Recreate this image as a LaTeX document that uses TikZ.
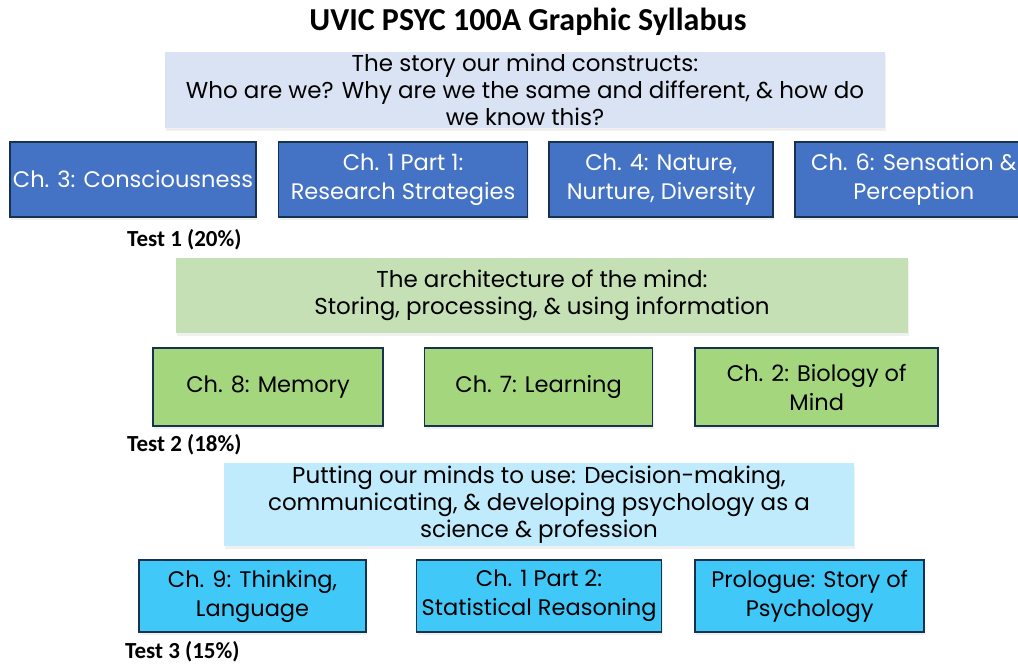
\documentclass[tikz,border=0pt]{standalone}
\usepackage{fontspec}
\setmainfont{Poppins}
\newfontfamily\headfont{Carlito}
\usepackage{tikz}
\usetikzlibrary{positioning, shadows}
\definecolor{bannerblue}{HTML}{DAE3F3}
\definecolor{bannergreen}{HTML}{C5E0B4}
\definecolor{bannercyan}{HTML}{BFEBFC}
\definecolor{chblue}{HTML}{4472C4}
\definecolor{chgreen}{HTML}{A3D67D}
\definecolor{chcyan}{HTML}{40C8F8}
\definecolor{chedge}{HTML}{17324D}
\tikzset{banner/.style={draw=none, align=center, inner sep=0pt, text=black,
    font=\fontsize{23}{27}\selectfont,
    drop shadow={opacity=0.12, shadow xshift=1pt, shadow yshift=-3pt}}}
\tikzset{chapter/.style={draw=chedge, line width=1.6pt, align=center, inner sep=0pt,
    font=\fontsize{22.5}{29}\selectfont,
    drop shadow={opacity=0.12, shadow xshift=1pt, shadow yshift=-3pt}}}
\tikzset{testlbl/.style={anchor=west, inner sep=0pt, font=\headfont\bfseries\fontsize{23}{26}\selectfont}}

\begin{document}
\begin{tikzpicture}[x=1pt, y=-1pt]
    \useasboundingbox (0,0) rectangle (1018,665);
    \clip (0,0) rectangle (1018,665);

    \node[font=\headfont\bfseries\fontsize{32}{36}\selectfont] (title) at (528,22) {UVIC PSYC 100A Graphic Syllabus};

    % part 1
    \node[banner, fill=bannerblue, minimum width=720pt, minimum height=76pt] (story) at (525,90)
        {The story our mind constructs:\\Who are we? Why are we the same and different, \& how do\\we know this?};
    \node[chapter, fill=chblue, text=white, minimum width=246pt, minimum height=75pt] (ch3) at (133,179.5) {Ch. 3: Consciousness};
    \node[chapter, fill=chblue, text=white, minimum width=249pt, minimum height=75pt, right=21pt of ch3] (ch1a) {Ch. 1 Part 1:\\Research Strategies};
    \node[chapter, fill=chblue, text=white, minimum width=224pt, minimum height=75pt, right=20pt of ch1a] (ch4) {Ch. 4: Nature,\\Nurture, Diversity};
    \node[chapter, fill=chblue, text=white, minimum width=238pt, minimum height=75pt, right=20pt of ch4] (ch6) {Ch. 6: Sensation \&\\Perception};
    \node[testlbl] (test1) at (127,240) {Test 1 (20\%)};

    % part 2
    \node[banner, fill=bannergreen, minimum width=732pt, minimum height=75pt] (arch) at (542,295.5)
        {The architecture of the mind:\\Storing, processing, \& using information};
    \node[chapter, fill=chgreen, minimum width=230pt, minimum height=78pt] (ch8) at (268,387) {Ch. 8: Memory};
    \node[chapter, fill=chgreen, minimum width=228pt, minimum height=78pt, right=40pt of ch8] (ch7) {Ch. 7: Learning};
    \node[chapter, fill=chgreen, minimum width=243pt, minimum height=78pt, right=41pt of ch7] (ch2) {Ch. 2: Biology of\\Mind};
    \node[testlbl] (test2) at (127,445) {Test 2 (18\%)};

    % part 3
    \node[banner, fill=bannercyan, minimum width=630pt, minimum height=83pt] (use) at (539,504.5)
        {Putting our minds to use: Decision-making,\\communicating, \& developing psychology as a\\science \& profession};
    \node[chapter, fill=chcyan, minimum width=227pt, minimum height=72pt] (ch9) at (252.5,596) {Ch. 9: Thinking,\\Language};
    \node[chapter, fill=chcyan, minimum width=245pt, minimum height=72pt, right=49pt of ch9] (ch1b) {Ch. 1 Part 2:\\Statistical Reasoning};
    \node[chapter, fill=chcyan, minimum width=229pt, minimum height=72pt, right=32pt of ch1b] (prol) {Prologue: Story of\\Psychology};
    \node[testlbl] (test3) at (125,652) {Test 3 (15\%)};
\end{tikzpicture}
\end{document}
